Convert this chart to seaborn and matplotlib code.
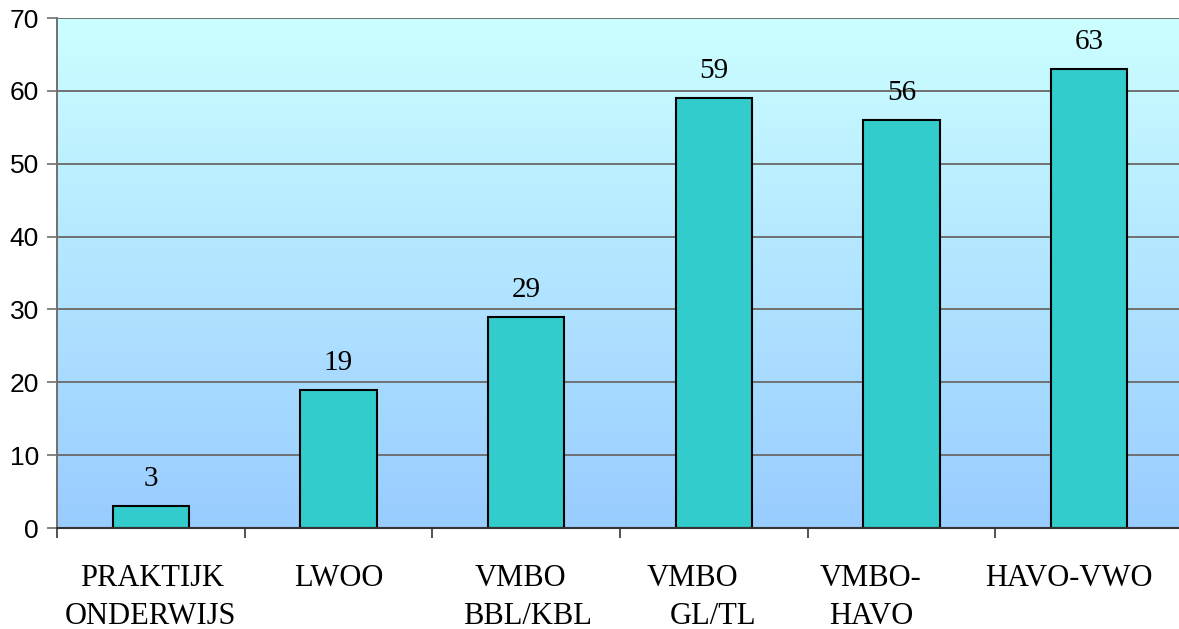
import matplotlib
matplotlib.use("Agg")
import matplotlib.pyplot as plt
import matplotlib.transforms as mtransforms
import numpy as np
import pandas as pd
import seaborn as sns

# data
categories = ["PRAKTIJK\nONDERWIJS", "LWOO", "VMBO\nBBL/KBL", "VMBO\nGL/TL", "VMBO-\nHAVO", "HAVO-VWO"]
values = [3, 19, 29, 59, 56, 63]
y_ticks = [0, 10, 20, 30, 40, 50, 60, 70]

# horizontal shift (px) of each label line, as laid out in the original
line_shift = [[1, 0], [0], [-6, 1], [-21, -1], [-31, -30], [-20]]

df = pd.DataFrame({"cat": categories, "val": values})

fig = plt.figure(figsize=(11.79, 6.29), dpi=100)
ax = fig.add_axes([57 / 1179, 101 / 629, 1126 / 1179, 510 / 629])

# background gradient
grad = np.linspace(0, 1, 256).reshape(-1, 1)
cmap = matplotlib.colors.LinearSegmentedColormap.from_list("bg", ["#CCFFFF", "#99CCFF"])
ax.imshow(grad, cmap=cmap, aspect="auto", extent=[0, 1, 0, 1],
          transform=ax.transAxes, zorder=0)

sns.barplot(data=df, x="cat", y="val", color="#33CCCC", saturation=1,
            edgecolor="black", linewidth=1.5, width=0.405, ax=ax, zorder=3)

ax.set_xlim(-0.5, len(categories) - 0.5)
ax.set_ylim(0, 70)
ax.set_yticks(y_ticks)
ax.yaxis.grid(True, color="#707070", linewidth=1.4, zorder=1)
ax.set_axisbelow(True)
ax.set_xlabel("")
ax.set_ylabel("")

for s in ["top", "right"]:
    ax.spines[s].set_visible(False)
ax.spines["left"].set_color("#707070")
ax.spines["left"].set_linewidth(1.4)
ax.spines["bottom"].set_color("#333333")
ax.spines["bottom"].set_linewidth(1.5)
ax.spines["bottom"].set_zorder(4)

ax.tick_params(axis="y", length=7, width=1.2, color="#707070", pad=6,
               labelsize=19, labelfontfamily="Liberation Sans")
ax.set_xticks(np.arange(len(categories) + 1) - 0.5)
ax.set_xticklabels([])
ax.tick_params(axis="x", length=7, width=1.2, color="#333333")

# value labels
for c in ax.containers:
    ax.bar_label(c, labels=[str(v) for v in values], padding=10,
                 fontsize=21, family="Liberation Serif")

# category labels
base = mtransforms.blended_transform_factory(ax.transData, ax.transAxes)
for i, lab in enumerate(categories):
    for j, line in enumerate(lab.split("\n")):
        off = mtransforms.ScaledTranslation(line_shift[i][j] / 100, -(58 + 38 * j) / 100,
                                            fig.dpi_scale_trans)
        ax.text(i, 0, line, transform=base + off, ha="center", va="baseline",
                fontsize=22, family="Liberation Serif", clip_on=False)

fig.savefig("out.png", dpi=100)
